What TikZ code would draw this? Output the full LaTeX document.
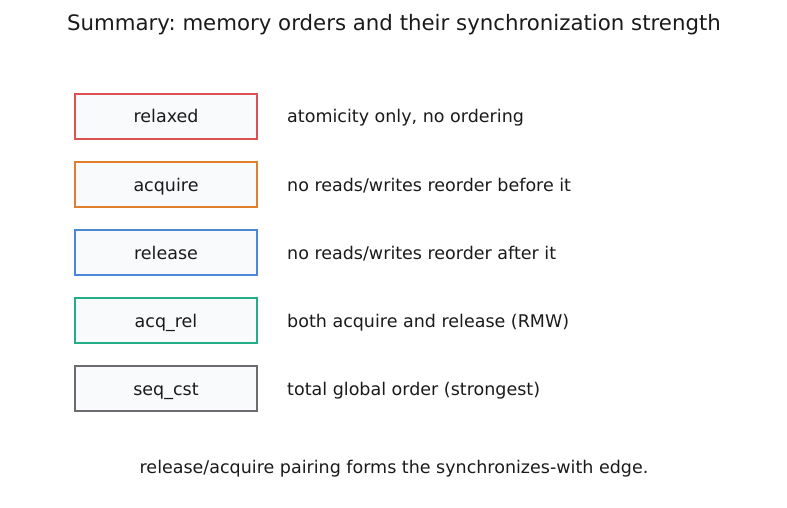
\documentclass[tikz,border=0pt]{standalone}
\usepackage{fontspec}
\setmainfont{DejaVu Sans}
\frenchspacing
\definecolor{cred}{HTML}{DC5252}
\definecolor{corange}{HTML}{E07F2E}
\definecolor{cblue}{HTML}{4A88DA}
\definecolor{cgreen}{HTML}{24AE87}
\definecolor{cgray}{HTML}{6C6C70}
\definecolor{cfill}{HTML}{F8FAFC}
\definecolor{ctext}{HTML}{1A1A1A}
\begin{document}
\begin{tikzpicture}[x=1pt,y=-1pt,
  txt/.style={text height=15pt, text depth=2pt, text=ctext, font=\fontsize{17.5}{20}\selectfont\frenchspacing},
  orderbox/.style={txt, draw, line width=1.5pt, fill=cfill, minimum width=182pt, minimum height=45pt, inner sep=0pt},
  desc/.style={txt, anchor=west, inner sep=0pt}]
\useasboundingbox (0,0) rectangle (787,508);
\node[txt, font=\fontsize{21.3}{25}\selectfont\frenchspacing, text height=18pt, text depth=3pt] (title) at (394,23) {Summary: memory orders and their synchronization strength};
\node[orderbox, draw=cred] (relaxed) at (166,116.5) {relaxed};
\node[orderbox, draw=corange] (acquire) at (166,184.5) {acquire};
\node[orderbox, draw=cblue] (release) at (166,252.5) {release};
\node[orderbox, draw=cgreen] (acqrel) at (166,320.5) {acq\_rel};
\node[orderbox, draw=cgray] (seqcst) at (166,388.5) {seq\_cst};
\node[desc] (d1) at (287,116.5) {atomicity only, no ordering};
\node[desc] (d2) at (287,184.5) {no reads/writes reorder before it};
\node[desc] (d3) at (287,252.5) {no reads/writes reorder after it};
\node[desc] (d4) at (287,320.5) {both acquire and release (RMW)};
\node[desc] (d5) at (287,388.5) {total global order (strongest)};
\node[txt] (foot) at (394,466.5) {release/acquire pairing forms the synchronizes-with edge.};
\end{tikzpicture}
\end{document}
